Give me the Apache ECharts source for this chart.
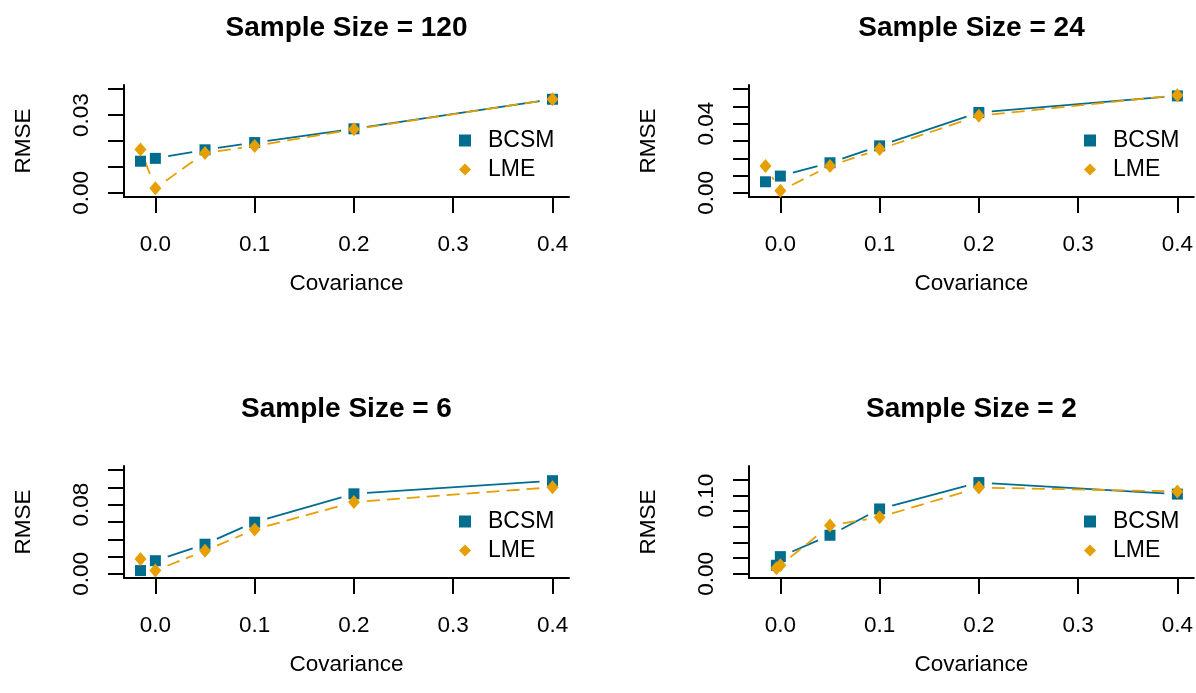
<!DOCTYPE html>
<html><head><meta charset="utf-8">
<script src="https://cdn.jsdelivr.net/npm/echarts@6/dist/echarts.min.js"></script>
<style>html,body{margin:0;padding:0;background:#fff}#c{width:1196px;height:693px}</style>
</head><body><div id="c"></div>
<script>
// ---- data ----
const titles = ['Sample Size = 120', 'Sample Size = 24', 'Sample Size = 6', 'Sample Size = 2'];
const covariance = [-0.015, 0, 0.05, 0.1, 0.2, 0.4];
const covarianceN2 = [-0.004, 0, 0.05, 0.1, 0.2, 0.4];

const bcsm120 = [0.0122, 0.0133, 0.0166, 0.0194, 0.0247, 0.0361];
const lme120  = [0.0167, 0.0018, 0.0154, 0.0181, 0.0245, 0.0361];
const bcsm24  = [0.0064, 0.0097, 0.0174, 0.0272, 0.0465, 0.0561];
const lme24   = [0.0156, 0.0012, 0.0156, 0.0253, 0.0446, 0.0565];
const bcsm6   = [0.0038, 0.0152, 0.0343, 0.0598, 0.0926, 0.1078];
const lme6    = [0.0171, 0.0038, 0.0267, 0.0514, 0.0830, 0.1002];
const bcsm2   = [0.0110, 0.0220, 0.0493, 0.0829, 0.1166, 0.1019];
const lme2    = [0.0070, 0.0110, 0.0619, 0.0724, 0.1103, 0.1053];

const xTicks = [0, 0.1, 0.2, 0.3, 0.4];
const yTicks120 = [0, 0.01, 0.02, 0.03, 0.04];
const yLabels120 = [0, 0.03];
const yTicks24 = [0, 0.01, 0.02, 0.03, 0.04, 0.05, 0.06];
const yLabels24 = [0, 0.04];
const yTicks6 = [0, 0.02, 0.04, 0.06, 0.08, 0.10, 0.12];
const yLabels6 = [0, 0.08];
const yTicks2 = [0, 0.02, 0.04, 0.06, 0.08, 0.10, 0.12];
const yLabels2 = [0, 0.10];

const seriesNames = ['BCSM', 'LME'];
const xName = 'Covariance';
const yName = 'RMSE';

// ---- style / layout ----
const FONT = '"Liberation Sans", Arial, sans-serif';
const C_BCSM = '#006D8F';
const C_LME = '#E69F00';
const panels = [
  {cov: covariance,   b: bcsm120, l: lme120, yt: yTicks120, yl: yLabels120, ymin: -0.0016, ymax: 0.0416, left: 124, top: 85},
  {cov: covariance,   b: bcsm24,  l: lme24,  yt: yTicks24,  yl: yLabels24,  ymin: -0.0024, ymax: 0.0624, left: 749, top: 85},
  {cov: covariance,   b: bcsm6,   l: lme6,   yt: yTicks6,   yl: yLabels6,   ymin: -0.0048, ymax: 0.1248, left: 124, top: 466},
  {cov: covarianceN2, b: bcsm2,   l: lme2,   yt: yTicks2,   yl: yLabels2,   ymin: -0.0053, ymax: 0.1378, left: 749, top: 466}
];
const GW = 445, GH = 112;

function pairs(xs, ys) { return xs.map((x, i) => [x, ys[i]]); }
function segs(xs, ys) {
  const out = [];
  for (let i = 0; i < xs.length - 1; i++) out.push([xs[i], ys[i], xs[i + 1], ys[i + 1]]);
  return out;
}
function gapLine(color, dash) {
  return function (params, api) {
    const a = api.coord([api.value(0), api.value(1)]);
    const b = api.coord([api.value(2), api.value(3)]);
    const dx = b[0] - a[0], dy = b[1] - a[1];
    const len = Math.hypot(dx, dy);
    const gap = 13;
    if (len <= 2 * gap + 1) return {type: 'group', children: []};
    const ux = dx / len, uy = dy / len;
    return {
      type: 'line',
      shape: {x1: a[0] + ux * gap, y1: a[1] + uy * gap, x2: b[0] - ux * gap, y2: b[1] - uy * gap},
      style: {stroke: color, lineWidth: 1.8, lineDash: dash, fill: null}
    };
  };
}

const axisLine = {show: true, onZero: false, lineStyle: {color: '#000', width: 2}};
const option = {
  animation: false,
  backgroundColor: '#fff',
  textStyle: {fontFamily: FONT},
  title: [], grid: [], xAxis: [], yAxis: [], legend: [], series: []
};

panels.forEach((p, i) => {
  option.grid.push({left: p.left, top: p.top, width: GW, height: GH, containLabel: false});
  option.title.push({
    text: titles[i], left: p.left + GW / 2, top: p.top - 71, textAlign: 'center', padding: 0,
    textStyle: {fontFamily: FONT, fontWeight: 'bold', fontSize: 28, lineHeight: 28, color: '#000'}
  });
  option.xAxis.push({
    type: 'value', gridIndex: i, min: -0.0316, max: 0.4166,
    name: xName, nameLocation: 'middle', nameGap: 76,
    nameTextStyle: {fontFamily: FONT, fontSize: 22.5, lineHeight: 22.5, color: '#000'},
    axisLine: axisLine, splitLine: {show: false},
    axisTick: {show: true, customValues: xTicks, length: 16, lineStyle: {color: '#000', width: 2}},
    axisLabel: {customValues: xTicks, margin: 37, fontFamily: FONT, fontSize: 22.5, lineHeight: 22.5, color: '#000',
      formatter: v => v.toFixed(1)}
  });
  option.yAxis.push({
    type: 'value', gridIndex: i, min: p.ymin, max: p.ymax,
    name: yName, nameLocation: 'middle', nameGap: 89, nameRotate: 90,
    nameTextStyle: {fontFamily: FONT, fontSize: 22.5, lineHeight: 22.5, color: '#000'},
    axisLine: axisLine, splitLine: {show: false},
    axisTick: {show: true, customValues: p.yt, length: 16, lineStyle: {color: '#000', width: 2}},
    axisLabel: {customValues: p.yl, rotate: 90, margin: 31, fontFamily: FONT, fontSize: 22.5, lineHeight: 22.5, color: '#000',
      formatter: v => v.toFixed(2)}
  });
  option.legend.push({
    orient: 'vertical', left: p.left + 335, top: p.top + 44, padding: 0,
    itemWidth: 12, itemHeight: 12, itemGap: 6, selectedMode: false,
    data: [{name: seriesNames[0], icon: 'rect'}, {name: seriesNames[1], icon: 'diamond'}],
    textStyle: {fontFamily: FONT, fontSize: 23, lineHeight: 23, color: '#000', padding: [0, 0, 0, 12]}
  });
  option.series.push({
    type: 'custom', name: 'BCSM line', xAxisIndex: i, yAxisIndex: i,
    data: segs(p.cov, p.b), encode: {x: [0, 2], y: [1, 3]},
    renderItem: gapLine(C_BCSM, null), silent: true, z: 1
  });
  option.series.push({
    type: 'custom', name: 'LME line', xAxisIndex: i, yAxisIndex: i,
    data: segs(p.cov, p.l), encode: {x: [0, 2], y: [1, 3]},
    renderItem: gapLine(C_LME, [13, 7]), silent: true, z: 2
  });
  option.series.push({
    type: 'scatter', name: seriesNames[0], xAxisIndex: i, yAxisIndex: i,
    data: pairs(p.cov, p.b), symbol: 'rect', symbolSize: 11,
    itemStyle: {color: C_BCSM, opacity: 1}, z: 3
  });
  option.series.push({
    type: 'scatter', name: seriesNames[1], xAxisIndex: i, yAxisIndex: i,
    data: pairs(p.cov, p.l), symbol: 'diamond', symbolSize: [12, 14],
    itemStyle: {color: C_LME, opacity: 1}, z: 4
  });
});

const chart = echarts.init(document.getElementById('c'), null, {renderer: 'canvas'});
chart.setOption(option);
</script>
</body></html>
